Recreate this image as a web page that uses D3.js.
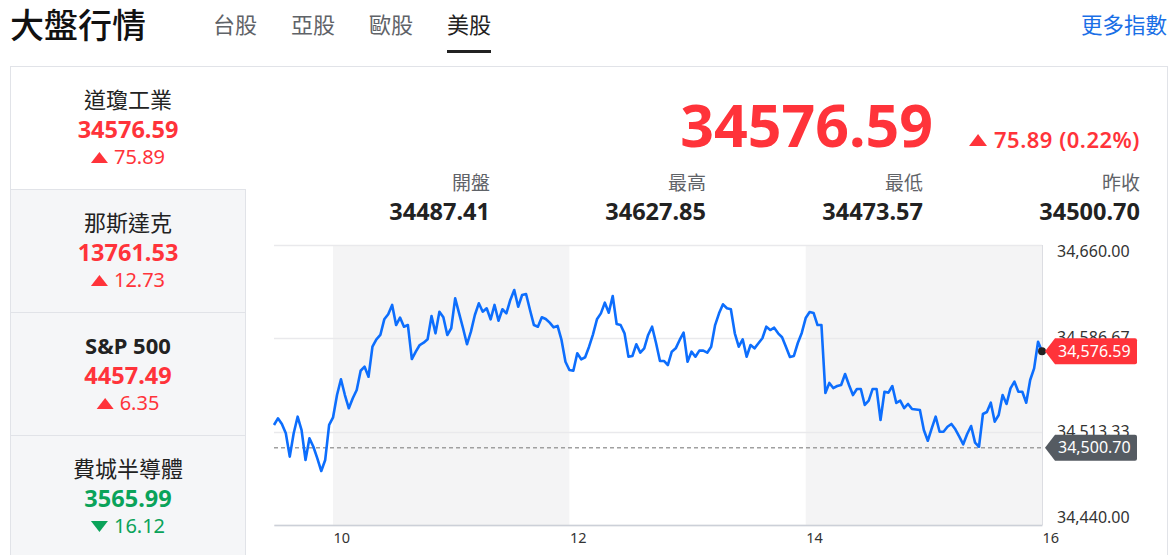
<!DOCTYPE html>
<html><head><meta charset="utf-8">
<script src="https://cdn.jsdelivr.net/npm/d3@7/dist/d3.min.js"></script>
<style>
html,body{margin:0;padding:0;background:#fff;}
svg{display:block;font-family:"Noto Sans","Noto Sans CJK TC",sans-serif;}
</style></head>
<body>
<svg id="c" width="1170" height="555"></svg>
<script>
// ---------- data ----------
const tabs = ["台股", "亞股", "歐股", "美股"];
const activeTab = "美股";
const indexNames = ["道瓊工業", "那斯達克", "S&P 500", "費城半導體"];
const indexValues = ["34576.59", "13761.53", "4457.49", "3565.99"];
const indexChanges = ["75.89", "12.73", "6.35", "16.12"];
const indexUp = [true, true, true, false];
const lastPrice = 34576.59;
const changeText = "75.89 (0.22%)";
const statLabels = ["開盤", "最高", "最低", "昨收"];
const statValues = ["34487.41", "34627.85", "34473.57", "34500.70"];
const prevClose = 34500.70;
const yTicks = [34440.00, 34513.33, 34586.67, 34660.00];
const xTicks = [10, 12, 14, 16];
const shadedHours = [[10, 12], [14, 16]];
const startHour = 9.5, endHour = 16, stepMinutes = 2;
const dowValues = [
34518.6,34523.8,34519.4,34512.1,34493.7,34512.1,34525.1,34514.6,34491.1,34508.1,
34501.5,34492.4,34482.4,34491.1,34518.6,34524.6,34542.1,34554.5,34542.1,34531.7,
34539.6,34546.1,34561.2,34564.4,34556.5,34580.1,34585.9,34589.3,34601.6,34605.6,
34612.9,34597.1,34603.0,34595.8,34597.1,34570.4,34576.2,34581.4,34583.2,34585.9,
34604.2,34590.6,34607.6,34603.2,34589.3,34594.6,34618.1,34606.3,34594.6,34582.0,
34591.9,34605.0,34614.2,34607.6,34610.3,34601.6,34612.9,34600.5,34609.5,34606.3,
34616.8,34624.6,34611.5,34620.7,34621.5,34608.9,34597.1,34595.8,34603.2,34601.9,
34599.0,34595.3,34596.4,34585.4,34568.3,34561.8,34561.2,34574.9,34570.2,34571.8,
34580.1,34589.8,34601.6,34606.3,34614.7,34606.8,34619.9,34597.9,34597.1,34590.6,
34572.2,34572.8,34582.0,34575.4,34578.8,34589.3,34595.8,34583.0,34568.9,34568.9,
34565.7,34576.2,34578.8,34585.4,34591.1,34568.3,34576.2,34572.2,34577.0,34577.0,
34575.4,34580.1,34597.1,34606.3,34613.4,34610.3,34609.5,34590.6,34580.1,34585.9,
34572.2,34581.4,34578.8,34582.8,34586.7,34595.8,34593.2,34595.0,34590.6,34587.5,
34579.9,34572.0,34572.8,34583.0,34590.9,34602.6,34607.4,34606.6,34597.1,34597.1,
34543.7,34551.6,34547.6,34549.2,34550.0,34558.6,34550.0,34542.1,34546.9,34546.9,
34534.3,34537.7,34546.9,34546.9,34522.5,34544.7,34544.0,34549.2,34535.9,34537.7,
34531.9,34535.1,34531.1,34530.8,34530.4,34514.6,34506.2,34516.0,34525.1,34513.3,
34513.3,34517.2,34519.4,34515.2,34509.4,34503.4,34511.5,34517.8,34504.7,34501.5,
34527.2,34528.8,34536.1,34521.2,34526.4,34542.1,34535.1,34547.4,34552.6,34544.7,
34544.7,34536.1,34553.9,34563.1,34584.0,34576.59
];

// ---------- colors ----------
const RED = "#ff333a", GREEN = "#0aa35a", DARK = "#222";

const svg = d3.select("#c");
const fmt2 = d3.format(",.2f");

// ---------- header ----------
svg.append("text").attr("x", 10).attr("y", 38).attr("font-size", 34).attr("font-weight", 500)
  .attr("font-family", "'Noto Sans CJK TC',sans-serif").attr("fill", "#111").text("大盤行情");
const tabX = [213, 291, 369, 447];
tabs.forEach((t, i) => {
  svg.append("text").attr("x", tabX[i]).attr("y", 33).attr("font-size", 22)
    .attr("font-family", "'Noto Sans CJK TC',sans-serif")
    .attr("fill", t === activeTab ? "#222" : "#5f6368").text(t);
  if (t === activeTab) svg.append("rect").attr("x", tabX[i]).attr("y", 50).attr("width", 44).attr("height", 3).attr("fill", "#222");
});
svg.append("text").attr("x", 1167).attr("y", 33).attr("text-anchor", "end").attr("font-size", 21.5)
  .attr("font-family", "'Noto Sans CJK TC',sans-serif").attr("fill", "#1a6fe6").text("更多指數");

// ---------- card ----------
svg.append("rect").attr("x", 10.5).attr("y", 66.5).attr("width", 1157).attr("height", 500)
  .attr("fill", "#fff").attr("stroke", "#e1e3e8");

// left panel
const itemTop = [66.5, 189.5, 312.5, 435.5];
indexNames.forEach((n, i) => {
  const top = itemTop[i];
  if (i > 0) {
    svg.append("rect").attr("x", 10.5).attr("y", top).attr("width", 235).attr("height", 123)
      .attr("fill", "#f5f6f8").attr("stroke", "#e1e3e8");
  }
  const cx = 128;
  const col = indexUp[i] ? RED : GREEN;
  svg.append("text").attr("x", cx).attr("y", top + 41.5).attr("text-anchor", "middle")
    .attr("font-size", 22).attr("font-weight", n === "S&P 500" ? 700 : 400).attr("fill", DARK).text(n);
  svg.append("text").attr("x", cx).attr("y", top + 71.5).attr("text-anchor", "middle")
    .attr("font-size", 23.5).attr("font-weight", 700).attr("fill", col).text(indexValues[i]);
  const g = svg.append("g");
  const tx = g.append("text").attr("x", 0).attr("y", top + 97.5).attr("font-size", 20).attr("fill", col).text(indexChanges[i]);
  const w = tx.node().getComputedTextLength();
  const triW = 17, gap = 6, total = triW + gap + w;
  const x0 = cx - total / 2;
  tx.attr("x", x0 + triW + gap);
  const ty = top + 91.5;
  const tri = indexUp[i]
    ? `M${x0},${ty + 5} L${x0 + triW / 2},${ty - 6} L${x0 + triW},${ty + 5} Z`
    : `M${x0},${ty - 6} L${x0 + triW / 2},${ty + 5} L${x0 + triW},${ty - 6} Z`;
  g.append("path").attr("d", tri).attr("fill", col);
});

// ---------- price header ----------
svg.append("text").attr("x", 933).attr("y", 147).attr("text-anchor", "end").attr("font-size", 59)
  .attr("font-weight", 700).attr("fill", RED).text(lastPrice.toFixed(2));
const ct = svg.append("text").attr("x", 1140).attr("y", 148).attr("text-anchor", "end").attr("font-size", 22)
  .attr("font-weight", 600).attr("letter-spacing", 0.5).attr("fill", RED).text(changeText);
const cw = ct.node().getBBox().width;
const cx0 = 1140 - cw - 25;
svg.append("path").attr("d", `M${cx0},${146} L${cx0 + 9},${134} L${cx0 + 18},${146} Z`).attr("fill", RED);

const statX = [490, 706, 923, 1140];
statLabels.forEach((l, i) => {
  svg.append("text").attr("x", statX[i]).attr("y", 190).attr("text-anchor", "end").attr("font-size", 19)
    .attr("fill", "#5f6368").text(l);
  svg.append("text").attr("x", statX[i]).attr("y", 220).attr("text-anchor", "end").attr("font-size", 23.5)
    .attr("font-weight", 700).attr("fill", DARK).text(statValues[i]);
});

// ---------- chart ----------
const L = 274, R = 1042, T = 245, B = 525;
const x = d3.scaleLinear().domain([startHour, endHour]).range([L, R]);
const y = d3.scaleLinear().domain([yTicks[0], yTicks[yTicks.length - 1]]).range([B, T]);
const data = dowValues.map((v, i) => ({ h: startHour + i * stepMinutes / 60, v }));

const chart = svg.append("g");
shadedHours.forEach(([a, b]) => {
  chart.append("rect").attr("x", x(a)).attr("y", T).attr("width", x(b) - x(a)).attr("height", B - T).attr("fill", "#f4f4f5");
});
chart.append("g").selectAll("line").data(yTicks).join("line")
  .attr("x1", L).attr("x2", R).attr("y1", d => Math.round(y(d)) + 0.5).attr("y2", d => Math.round(y(d)) + 0.5)
  .attr("stroke", "#e9e9ec").attr("stroke-width", 1.5);
chart.append("line").attr("x1", R + 0.5).attr("x2", R + 0.5).attr("y1", T).attr("y2", B).attr("stroke", "#dcdde2");
const xAxis = d3.axisBottom(x).tickValues(xTicks).tickSize(0).tickFormat(d3.format("d"));
const xa = chart.append("g").attr("transform", `translate(0,${B})`).call(xAxis);
xa.select(".domain").attr("stroke", "#ccd0d8").attr("stroke-width", 1.5);
xa.selectAll("text").attr("text-anchor", "start").attr("dy", 0).attr("y", 18).attr("font-size", 14.5)
  .attr("fill", "#333").attr("font-family", "'Noto Sans',sans-serif");

const yAxis = d3.axisRight(y).tickValues(yTicks).tickSize(0).tickFormat(fmt2);
const ya = chart.append("g").attr("transform", `translate(${1057},0)`).call(yAxis);
ya.select(".domain").remove();
ya.selectAll(".tick").attr("transform", d => `translate(0,${Math.max(T + 7, Math.min(B - 7, y(d)))})`);
ya.selectAll("text").attr("x", 0).attr("font-size", 16).attr("fill", "#333").attr("font-family", "'Noto Sans',sans-serif");

chart.append("line").attr("x1", L).attr("x2", R).attr("y1", y(prevClose)).attr("y2", y(prevClose))
  .attr("stroke", "#a0a0a0").attr("stroke-width", 1.3).attr("stroke-dasharray", "4,3");

const line = d3.line().x(d => x(d.h)).y(d => y(d.v));
chart.append("path").datum(data).attr("d", line).attr("fill", "none").attr("stroke", "#0d6efd")
  .attr("stroke-width", 2.6).attr("stroke-linejoin", "round");

const last = data[data.length - 1];
chart.append("circle").attr("cx", x(last.h)).attr("cy", y(last.v)).attr("r", 4).attr("fill", "#222");

function tag(val, fill) {
  const cy = y(val);
  const x0 = 1045, x1 = 1055, x2 = 1137, h = 13;
  chart.append("path")
    .attr("d", `M${x0},${cy} L${x1},${cy - h} L${x2 - 2},${cy - h} Q${x2},${cy - h} ${x2},${cy - h + 2} L${x2},${cy + h - 2} Q${x2},${cy + h} ${x2 - 2},${cy + h} L${x1},${cy + h} Z`)
    .attr("fill", fill);
  chart.append("text").attr("x", 1058).attr("y", cy + 5.5).attr("font-size", 16).attr("fill", "#fff")
    .attr("font-family", "'Noto Sans',sans-serif").text(fmt2(val));
}
tag(lastPrice, RED);
tag(prevClose, "#555b62");
</script>
</body></html>
